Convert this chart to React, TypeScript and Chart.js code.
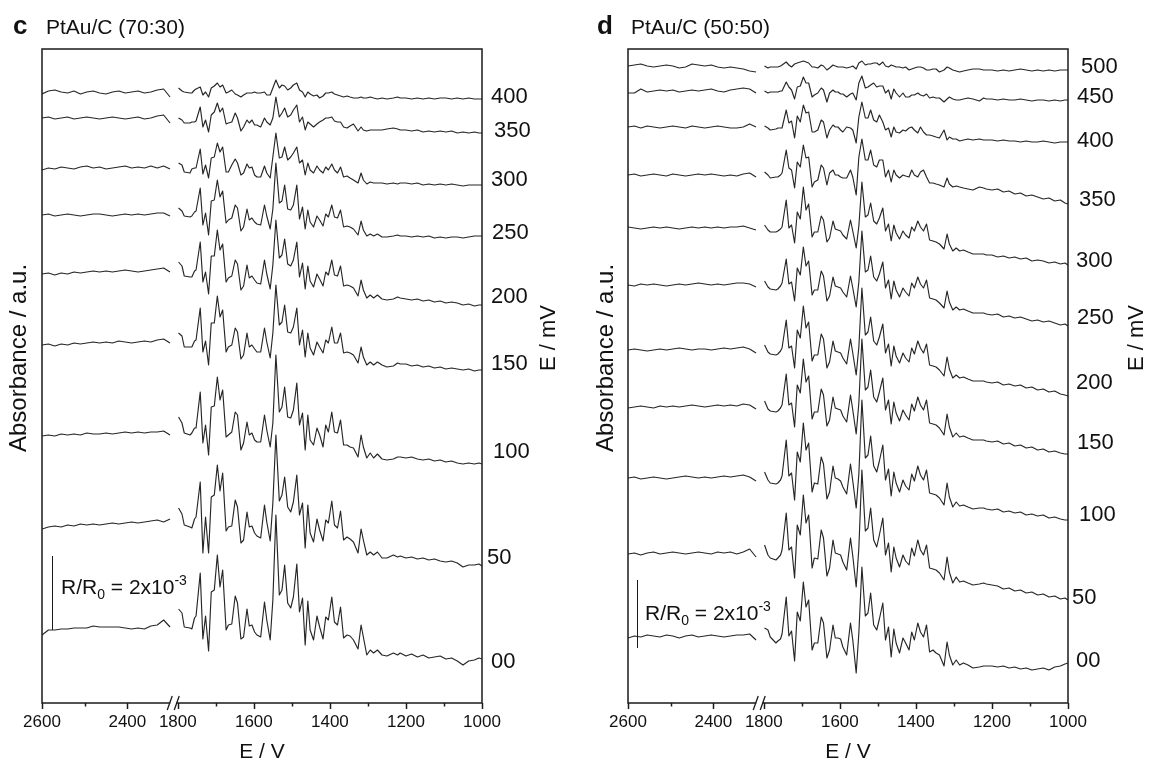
import React, { useEffect, useRef } from "react";
import { Chart, registerables } from "chart.js";

Chart.register(...registerables);

const FONT = '"Liberation Sans", Arial, Helvetica, sans-serif';
const LINE = "#262626";

// ---- x grid (wavenumber) ----
const X_LEFT = [2600, 2585, 2570, 2555, 2540, 2525, 2510, 2495, 2480, 2465, 2450, 2435, 2420, 2405, 2390, 2375, 2360, 2345, 2330, 2315, 2300];
const X_RIGHT = [
  1798, 1789, 1783, 1768, 1763, 1756, 1752,
  1741, 1734, 1727, 1719, 1712, 1704, 1696,
  1689, 1682, 1673, 1667, 1658, 1649, 1643,
  1634, 1627, 1618, 1612, 1605, 1598, 1592,
  1582, 1572, 1566, 1557, 1550, 1542, 1533,
  1526, 1519, 1511, 1503, 1496, 1487, 1480,
  1472, 1465, 1458, 1452, 1443, 1434, 1427,
  1418, 1411, 1404, 1395, 1388, 1380, 1372,
  1364, 1355, 1347, 1338, 1326, 1318, 1312,
  1303, 1294, 1285, 1275, 1263, 1250, 1233, 1222, 1215,
  1200, 1185, 1170, 1155, 1140, 1125, 1110, 1095, 1080, 1065, 1050, 1035, 1020, 1008, 1000,
];
const X_TICKS = [2600, 2500, 2400, 1800, 1700, 1600, 1500, 1400, 1300, 1200, 1100, 1000];
const X_TICK_LABELS = ["2600", "", "2400", "1800", "", "1600", "", "1400", "", "1200", "", "1000"];

// ---- panel c : PtAu/C (70:30) ----
const C_LABELS = ["400", "350", "300", "250", "200", "150", "100", "50", "00"];
const C_OFFSETS = [610, 585, 536, 488, 431, 361, 270, 176, 75];

const C_400_L = [-1, 2, 3, 1, 0, 2, -1, 1, 2, 0, -1, 1, 2, 0, 1, 2, 0, 1, 3, 4, -4];
const C_400_R = [
  5, 2, 1, 0, 0, 3, 4,
  6, -2, 1, -4, 5, 7, 10,
  6, 8, 0, 1, 3, -1, -2,
  -4, -2, 0, 0, 0, 1, 0,
  0, 1, -2, -2, 5, 13, 5,
  8, 7, 3, 5, 8, 10, 3,
  1, -4, 1, -1, -3, -2, -5,
  -3, 0, 0, 1, -1, -2, -3,
  -4, -3, -4, -5, -5, -4, -5,
  -5, -4, -5, -6, -5, -6, -5, -4, -5,
  -5, -6, -5, -6, -5, -6, -5, -5, -6, -5, -6, -5, -6, -6, -6,
];
const C_350_L = [0, 1, -1, 0, 1, -1, 0, 1, 0, -1, 0, 1, 0, -1, 0, 1, -1, 0, 2, 3, -5];
const C_350_R = [
  0, -2, -5, -5, -4, -4, -3,
  11, -9, -2, -14, 3, 6, 15,
  6, 10, -6, -5, -4, 5, 0,
  -13, -9, -2, -5, -2, -7, -7,
  -9, 0, -4, -7, 0, 21, 1,
  5, 10, 1, 3, 8, 13, -4,
  1, -12, -4, -6, -9, -6, -4,
  -2, 0, 0, 1, -3, -4, -4,
  -9, -10, -8, -6, -13, -9, -12,
  -13, -12, -12, -12, -12, -11, -10, -11, -12,
  -12, -13, -12, -14, -13, -14, -13, -14, -13, -15, -14, -15, -14, -15, -15,
];
const C_300_L = [-3, -1, -2, 0, -1, -2, 0, 1, -1, 0, -2, -1, 0, 1, -1, 0, -1, 1, -1, 1, -2];
const C_300_R = [
  4, 2, -5, -6, -2, -1, -1,
  18, -7, 2, -11, 9, 10, 24,
  15, 20, -5, -5, 2, 8, 4,
  -8, -6, 3, -1, 0, -8, -10,
  -10, 1, -6, -11, 10, 34, 9,
  10, 20, 7, 10, 14, 20, 4,
  7, -8, 4, -3, -6, 1, -3,
  -6, 0, -3, 3, -3, -6, 0,
  -10, -9, -11, -13, -16, -6, -13,
  -17, -15, -16, -16, -16, -17, -16, -17, -16,
  -16, -17, -16, -18, -17, -18, -17, -18, -17, -18, -19, -18, -18, -18, -18,
];
const C_250_L = [0, 1, -1, 0, 1, 0, -1, 0, 1, 1, 0, -1, 0, 1, 0, 1, 0, 1, 2, 2, -1];
const C_250_R = [
  7, 4, -1, -2, -1, 3, 4,
  27, -10, 2, -20, 14, 15, 35,
  18, 24, -8, -5, -3, 10, 7,
  -16, -12, 6, -5, -3, -7, -9,
  -10, 10, -1, -14, 6, 52, 12,
  14, 30, 6, 5, 10, 30, -4,
  8, -14, 5, -7, -12, -1, -5,
  -11, 1, -2, 10, -2, -3, 5,
  -12, -11, -12, -14, -20, -6, -15,
  -21, -19, -21, -19, -22, -22, -21, -20, -21,
  -21, -22, -21, -22, -21, -23, -22, -23, -22, -22, -23, -22, -21, -21, -21,
];
const C_200_L = [-2, -1, -3, -1, -2, 0, -1, 0, 1, 0, 1, 0, 1, 2, 1, 0, 1, 2, 3, 4, 0];
const C_200_R = [
  10, 6, -4, -5, -5, 1, 2,
  30, -10, 0, -22, 16, 16, 42,
  22, 28, -10, -6, -4, 12, 8,
  -18, -14, 7, -6, -4, -8, -11,
  -12, 12, -2, -17, 7, 52, 14,
  17, 33, 8, 6, 12, 30, -5,
  9, -17, 6, -9, -15, -2, -7,
  -14, 0, -3, 12, -3, -4, 6,
  -14, -13, -14, -16, -24, -8, -18,
  -26, -23, -26, -23, -27, -28, -27, -25, -26,
  -27, -28, -27, -29, -28, -30, -29, -31, -30, -31, -33, -32, -34, -33, -33,
];
const C_150_L = [-3, -2, -4, -2, -3, -1, -2, -1, 0, -1, 0, -1, 1, 0, -1, 0, 1, 0, 2, 3, -1];
const C_150_R = [
  9, 6, -5, -5, -5, 1, 2,
  34, -10, 1, -23, 19, 19, 46,
  25, 32, -10, -5, -3, 14, 10,
  -17, -13, 9, -5, -3, -7, -10,
  -10, 14, 0, -16, 9, 57, 17,
  20, 37, 10, 9, 15, 34, -3,
  12, -15, 9, -6, -13, 0, -5,
  -11, 2, -1, 15, -1, -1, 9,
  -11, -10, -11, -13, -21, -5, -15,
  -23, -20, -23, -20, -23, -25, -24, -21, -22,
  -22, -24, -23, -25, -24, -26, -25, -27, -26, -27, -28, -27, -29, -28, -28,
];
const C_100_L = [-3, -2, -3, -1, -2, -1, -2, 0, -1, -1, 0, -1, 0, 1, 0, 1, 0, 1, 1, 2, -2];
const C_100_R = [
  16, 10, 0, -2, 0, 5, 5,
  41, -10, 8, -22, 26, 27, 56,
  33, 43, -4, -2, 1, 21, 18,
  -17, -10, 11, -2, 0, -7, -9,
  -9, 18, 3, -14, 10, 78, 21,
  26, 46, 16, 15, 23, 50, 8,
  20, -17, 18, -7, -12, 5, -2,
  -14, 8, 1, 21, 1, 0, 13,
  -12, -12, -14, -15, -24, -2, -14,
  -25, -20, -25, -21, -26, -27, -26, -24, -24,
  -25, -24, -26, -27, -26, -28, -27, -29, -28, -30, -31, -30, -31, -30, -31,
];
const C_50_L = [-2, 0, 1, 0, 2, 1, 3, 2, 3, 2, 3, 4, 3, 4, 5, 4, 5, 6, 7, 5, 8];
const C_50_R = [
  19, 13, 2, 0, -1, 8, 10,
  45, -26, 10, -26, 30, 32, 62,
  36, 54, -4, 0, 1, 27, 20,
  -16, -13, 15, 0, 1, -6, -9,
  -11, 22, 5, -14, 24, 92, 26,
  32, 50, 20, 15, 25, 52, 12,
  24, -21, 22, -6, -15, 8, -3,
  -14, 7, 4, 26, 2, -1, 16,
  -13, -10, -12, -15, -26, -2, -13,
  -28, -25, -28, -25, -31, -31, -28, -30, -29,
  -31, -30, -32, -31, -33, -32, -34, -35, -34, -36, -40, -38, -38, -37, -39,
];
const C_00_L = [-7, -2, -2, -1, -1, 0, 0, 0, 2, 1, 1, 1, 1, 0, -1, 0, -1, 2, 3, 8, 1];
const C_00_R = [
  19, 15, 1, 0, -1, 10, 12,
  55, -11, 12, -23, 36, 38, 73,
  41, 58, -2, 3, 4, 32, 25,
  -11, -9, 19, 2, 3, -4, -7,
  -9, 26, 8, -12, 28, 113, 33,
  38, 63, 25, 20, 31, 64, 16,
  30, -17, 27, -2, -12, 12, 1,
  -11, 11, 8, 31, 6, 3, 21,
  -10, -7, -8, -12, -21, 3, -9,
  -27, -22, -25, -22, -27, -28, -25, -27, -25,
  -28, -26, -29, -27, -30, -29, -28, -31, -30, -33, -37, -33, -32, -30, -31,
];

// ---- panel d : PtAu/C (50:50) ----
const D_LABELS = ["500", "450", "400", "350", "300", "250", "200", "150", "100", "50", "00"];
const D_OFFSETS = [637, 611, 576, 528, 475, 418, 353, 296, 225, 150, 67];

const D_500_L = [0, 1, 2, 0, -1, 0, 1, 0, -2, -1, 2, 1, 0, 1, -1, -2, -1, -2, -3, -5, -6];
const D_500_R = [
  0, -2, -1, -1, -1, 0, 1,
  4, 1, -1, 2, 3, 4, 5,
  4, 3, -1, -1, -2, 1, 0,
  -4, -2, 1, 0, -1, -1, -1,
  -2, -1, 0, -3, 3, 5, 1,
  2, 2, 3, 3, 1, 4, 0,
  -1, 1, 0, -1, -1, -2, -1,
  -4, -3, -2, -1, -1, -2, -4,
  -4, -3, -3, -6, -4, -1, -2,
  -4, -5, -6, -5, -4, -3, -3, -4, -4,
  -4, -5, -4, -5, -4, -3, -4, -5, -4, -5, -4, -5, -4, -4, -4,
];
const D_450_L = [-1, -1, 3, 0, 1, 2, 1, 2, 0, 1, 2, 1, 2, 3, 1, 0, 2, 3, 4, 3, -1];
const D_450_R = [
  1, -1, 0, 0, 0, 1, 1,
  10, 5, 2, -7, 5, 6, 15,
  9, 9, -5, -3, -1, 4, 2,
  -10, -1, 2, 0, 0, -2, -2,
  -5, -2, -1, -8, 9, 16, 4,
  5, 7, 9, 5, 6, 6, -1,
  2, -7, 3, -1, -5, -1, -5,
  -5, -3, -3, -1, -3, -4, -2,
  -6, -5, -6, -6, -10, -7, -5,
  -7, -8, -8, -7, -6, -7, -9, -6, -7,
  -7, -8, -7, -8, -8, -7, -8, -9, -8, -8, -9, -8, -9, -8, -8,
];
const D_400_L = [0, 1, -1, 1, 0, -1, 0, 1, 0, -1, 1, 0, -1, 0, 1, 0, -1, -1, 0, 3, 0];
const D_400_R = [
  1, -1, -3, -2, -1, -1, -1,
  17, 4, 6, -11, 11, 5, 22,
  14, 15, -5, -5, -3, 7, 5,
  -11, -3, 2, 0, 0, -3, -5,
  0, -1, -3, -16, 10, 25, 9,
  9, 17, 7, 5, 12, 5, -3,
  -1, -10, 0, -5, -6, -3, -4,
  -1, 0, -3, -6, 0, -5, -8,
  -8, -9, -10, -11, -3, -13, -10,
  -12, -12, -14, -13, -12, -13, -12, -13, -13,
  -13, -14, -13, -14, -14, -15, -14, -15, -15, -14, -15, -16, -15, -15, -15,
];
const D_350_L = [0, 1, -1, 0, 1, 0, -1, 1, 0, -1, 0, 1, 0, 1, 0, -1, 0, -1, 1, 2, -2];
const D_350_R = [
  3, 0, -3, -2, -2, 0, 2,
  25, 7, 5, -13, 13, 8, 30,
  17, 18, -12, -7, -5, 10, 7,
  -10, 2, 5, 0, 0, -2, -3,
  -3, 5, -2, -20, 18, 36, 15,
  15, 25, 10, 8, 15, 15, -2,
  5, -7, 5, 0, -3, 0, -1,
  -2, 5, 0, -2, 3, 5, -2,
  -8, -8, -9, -10, -12, -3, -9,
  -12, -11, -12, -13, -14, -15, -12, -13, -14,
  -15, -14, -17, -16, -19, -18, -21, -20, -22, -24, -23, -26, -25, -28, -29,
];
const D_300_L = [1, 0, -1, 0, 1, 0, 1, 0, -1, 0, 1, 0, 1, 0, 1, 0, 1, 1, 2, 0, -2];
const D_300_R = [
  3, -2, -4, -4, -3, -1, 1,
  28, 0, 3, -15, 16, 9, 41,
  18, 24, -9, -4, -4, 12, 8,
  -14, -10, 7, -1, -2, -3, -7,
  -11, 8, -3, -20, 2, 46, 11,
  13, 25, 7, 4, 10, 20, -3,
  4, -13, 3, -5, -11, -3, -7,
  -10, 1, -3, 7, 1, -3, 4,
  -12, -13, -14, -16, -21, -6, -16,
  -23, -20, -23, -22, -24, -26, -26, -26, -27,
  -27, -29, -28, -30, -29, -31, -30, -33, -32, -33, -35, -34, -36, -35, -37,
];
const D_250_L = [0, -1, 1, 0, 1, 0, -1, 0, 1, 0, 1, 2, 1, 0, 1, 0, 1, 2, 2, 1, -2];
const D_250_R = [
  4, -2, -4, -5, -4, -1, 2,
  26, 1, 3, -16, 17, 10, 38,
  19, 24, -10, -5, -5, 14, 9,
  -16, -11, 8, -1, -2, -3, -7,
  -12, 9, -3, -22, 3, 54, 13,
  15, 29, 8, 4, 11, 23, -3,
  5, -14, 4, -5, -12, -3, -7,
  -11, 2, -3, 8, 1, -3, 5,
  -13, -14, -15, -18, -23, -6, -17,
  -25, -22, -25, -24, -26, -28, -28, -28, -29,
  -30, -29, -32, -31, -33, -32, -34, -36, -35, -37, -36, -38, -40, -39, -41,
];
const D_200_L = [0, 1, 0, -1, 0, 1, 0, 1, 2, 1, 0, 1, 1, 0, 1, 2, 1, 2, 3, 1, -3];
const D_200_R = [
  5, -2, -4, -5, -4, -1, 2,
  30, 2, 4, -18, 20, 12, 44,
  22, 28, -11, -5, -5, 16, 11,
  -18, -12, 9, -1, -2, -3, -8,
  -14, 11, -3, -25, 3, 62, 15,
  18, 33, 9, 5, 13, 26, -3,
  6, -16, 4, -6, -13, -3, -8,
  -12, 2, -4, 9, 2, -3, 6,
  -15, -16, -17, -20, -26, -7, -19,
  -28, -25, -28, -27, -29, -31, -31, -31, -32,
  -33, -32, -35, -34, -36, -35, -38, -37, -40, -39, -42, -41, -44, -45, -46,
];
const D_150_L = [-1, 0, 1, 0, -1, 1, 0, 1, 0, 1, 2, 1, 0, 1, 2, 1, 2, 1, 3, 2, -2];
const D_150_R = [
  6, -2, -4, -5, -4, -1, 2,
  33, 2, 4, -20, 22, 14, 48,
  25, 31, -12, -5, -5, 18, 12,
  -19, -13, 10, -1, -2, -3, -9,
  -15, 12, -3, -27, 4, 68, 17,
  20, 37, 10, 5, 15, 29, -3,
  7, -17, 5, -6, -14, -3, -8,
  -13, 3, -4, 10, 2, -3, 7,
  -16, -17, -18, -21, -28, -7, -20,
  -30, -26, -30, -29, -31, -33, -33, -33, -34,
  -35, -34, -37, -36, -39, -38, -41, -40, -43, -42, -45, -44, -46, -47, -47,
];
const D_100_L = [0, 1, -1, 0, 1, 0, -1, 0, 1, 2, 1, 0, 1, 0, 1, 2, 1, 2, 3, 1, -3];
const D_100_R = [
  6, -2, -5, -6, -5, -2, 2,
  38, 2, 5, -22, 26, 16, 55,
  28, 35, -14, -5, -6, 21, 14,
  -21, -14, 12, 0, -1, -3, -9,
  -16, 14, -3, -30, 4, 78, 20,
  23, 42, 12, 6, 17, 33, -2,
  9, -18, 6, -5, -14, -2, -8,
  -12, 4, -3, 12, 3, -2, 8,
  -15, -16, -17, -20, -27, -5, -19,
  -29, -24, -28, -27, -29, -31, -30, -30, -31,
  -32, -31, -34, -33, -35, -34, -37, -36, -38, -37, -40, -39, -41, -42, -42,
];
const D_50_L = [-1, 0, -2, 0, 1, -1, 0, 1, 0, -1, 0, 1, 0, -1, 1, 0, 1, -1, 1, 4, -4];
const D_50_R = [
  8, -2, -5, -7, -5, -2, 3,
  40, 3, 6, -25, 28, 18, 58,
  30, 38, -15, -5, -6, 23, 15,
  -23, -15, 13, 0, -1, -2, -9,
  -17, 15, -3, -34, 5, 83, 22,
  25, 45, 13, 6, 18, 35, -2,
  10, -19, 6, -5, -14, -2, -8,
  -12, 5, -3, 13, 3, -2, 8,
  -15, -16, -17, -20, -27, -4, -19,
  -30, -24, -29, -28, -30, -32, -31, -30, -31,
  -32, -33, -36, -35, -38, -37, -40, -39, -42, -41, -44, -43, -46, -45, -47,
];
const D_00_L = [-2, 0, -1, 1, 0, -1, 1, 0, -2, 0, 1, -1, 0, 1, 0, -1, 0, 1, 1, 2, -4];
const D_00_R = [
  8, 6, -1, -7, -5, -3, 2,
  39, 0, 5, -25, 24, 15, 54,
  29, 36, -14, -7, -7, 19, 13,
  -22, -14, 11, -2, -2, -3, -11,
  -19, 13, -4, -37, 3, 69, 20,
  23, 43, 11, 6, 17, 33, -4,
  9, -21, 7, -7, -17, -2, -7,
  -14, 4, -4, 13, 4, -1, 11,
  -16, -14, -17, -19, -30, -6, -19,
  -29, -24, -29, -27, -29, -32, -31, -30, -30,
  -30, -31, -30, -32, -31, -33, -32, -34, -33, -32, -34, -31, -30, -28, -27,
];

const C_LEFT = [C_400_L, C_350_L, C_300_L, C_250_L, C_200_L, C_150_L, C_100_L, C_50_L, C_00_L];
const C_RIGHT = [C_400_R, C_350_R, C_300_R, C_250_R, C_200_R, C_150_R, C_100_R, C_50_R, C_00_R];
const D_LEFT = [D_500_L, D_450_L, D_400_L, D_350_L, D_300_L, D_250_L, D_200_L, D_150_L, D_100_L, D_50_L, D_00_L];
const D_RIGHT = [D_500_R, D_450_R, D_400_R, D_350_R, D_300_R, D_250_R, D_200_R, D_150_R, D_100_R, D_50_R, D_00_R];

// ---- broken axis mapping (2600-2300 | 1800-1000) ----
const U_MAX = 2157.1;
const BREAK_U = 1812;
function toAxis(e: number): number {
  return e <= 1800 ? e : U_MAX - (2600 - e) * 1.1224;
}

type Layout = {
  left: number;
  width: number;
  padLeft: number;
  padRight: number;
  letter: string;
  letterX: number;
  title: string;
  titleX: number;
  yTitleX: number;
  rightTitleX: number;
  labelX: number[];
  labelY: number[];
  barX: number;
  barY1: number;
  barY2: number;
  rrX: number;
  rrY: number;
};

const LAYOUT_C: Layout = {
  left: 0, width: 574, padLeft: 42, padRight: 92,
  letter: "c", letterX: 13, title: "PtAu/C (70:30)", titleX: 46,
  yTitleX: 19, rightTitleX: 549,
  labelX: [491, 494, 491, 492, 491, 491, 493, 487, 491],
  labelY: [97, 131, 180, 233, 297, 364, 452, 558, 662],
  barX: 52.5, barY1: 556, barY2: 630, rrX: 61, rrY: 594,
};
const LAYOUT_D: Layout = {
  left: 574, width: 575, padLeft: 54, padRight: 81,
  letter: "d", letterX: 23, title: "PtAu/C (50:50)", titleX: 57,
  yTitleX: 32, rightTitleX: 563,
  labelX: [507, 503, 503, 505, 502, 503, 502, 503, 505, 498, 502],
  labelY: [67, 97, 141, 200, 261, 318, 383, 443, 515, 598, 661],
  barX: 63.5, barY1: 580, barY2: 648, rrX: 71, rrY: 620,
};

function makeOverlay(lay: Layout, labels: string[]) {
  return {
    id: "overlay" + lay.letter,
    afterDraw(chart: any) {
      const ctx: CanvasRenderingContext2D = chart.ctx;
      const a = chart.chartArea;
      const xs = chart.scales.x;
      ctx.save();
      // frame
      ctx.strokeStyle = "#1a1a1a";
      ctx.lineWidth = 1.5;
      ctx.strokeRect(a.left, a.top, a.right - a.left, a.bottom - a.top);
      // ticks
      X_TICKS.forEach((e, i) => {
        const px = Math.round(xs.getPixelForValue(toAxis(e))) + 0.5;
        const len = X_TICK_LABELS[i] ? 6 : 3.5;
        ctx.beginPath();
        ctx.moveTo(px, a.bottom);
        ctx.lineTo(px, a.bottom + len);
        ctx.stroke();
      });
      // axis break
      const bx = xs.getPixelForValue(BREAK_U);
      ctx.fillStyle = "#fff";
      ctx.fillRect(bx - 3, a.bottom - 2, 6, 4);
      ctx.lineWidth = 1.3;
      [-3.5, 3.5].forEach((d) => {
        ctx.beginPath();
        ctx.moveTo(bx + d - 2.5, a.bottom + 7);
        ctx.lineTo(bx + d + 2.5, a.bottom - 7);
        ctx.stroke();
      });
      // texts
      ctx.fillStyle = "#111";
      ctx.textBaseline = "alphabetic";
      ctx.textAlign = "left";
      ctx.font = `bold 26px ${FONT}`;
      ctx.fillText(lay.letter, lay.letterX, 34);
      ctx.font = `21px ${FONT}`;
      ctx.fillText(lay.title, lay.titleX, 34);
      ctx.textAlign = "center";
      ctx.textBaseline = "middle";
      ctx.fillText("E / V", (a.left + a.right) / 2, 752);
      ctx.save();
      ctx.font = `24px ${FONT}`;
      ctx.translate(lay.yTitleX, 358);
      ctx.rotate(-Math.PI / 2);
      ctx.fillText("Absorbance / a.u.", 0, 0);
      ctx.restore();
      ctx.save();
      ctx.font = `22px ${FONT}`;
      ctx.translate(lay.rightTitleX, 338);
      ctx.rotate(-Math.PI / 2);
      ctx.fillText("E / mV", 0, 0);
      ctx.restore();
      // trace labels
      ctx.textAlign = "left";
      ctx.font = `22px ${FONT}`;
      labels.forEach((t, i) => ctx.fillText(t, lay.labelX[i], lay.labelY[i]));
      // scale bar
      ctx.lineWidth = 1;
      ctx.beginPath();
      ctx.moveTo(lay.barX, lay.barY1);
      ctx.lineTo(lay.barX, lay.barY2);
      ctx.stroke();
      ctx.textBaseline = "alphabetic";
      let x = lay.rrX;
      const y = lay.rrY;
      ctx.font = `21px ${FONT}`;
      ctx.fillText("R/R", x, y);
      x += ctx.measureText("R/R").width;
      ctx.font = `14px ${FONT}`;
      ctx.fillText("0", x, y + 5);
      x += ctx.measureText("0").width;
      ctx.font = `21px ${FONT}`;
      ctx.fillText(" = 2x10", x, y);
      x += ctx.measureText(" = 2x10").width;
      ctx.font = `14px ${FONT}`;
      ctx.fillText("-3", x, y - 9);
      ctx.restore();
    },
  };
}

function Panel({ lay, labels, offsets, lefts, rights }: { lay: Layout; labels: string[]; offsets: number[]; lefts: number[][]; rights: number[][] }) {
  const ref = useRef<HTMLCanvasElement>(null);
  useEffect(() => {
    const datasets = labels.map((lab, k) => {
      const pts: { x: number; y: number | null }[] = [];
      X_LEFT.forEach((e, i) => pts.push({ x: toAxis(e), y: offsets[k] + lefts[k][i] }));
      pts.push({ x: BREAK_U, y: null });
      X_RIGHT.forEach((e, i) => pts.push({ x: toAxis(e), y: offsets[k] + rights[k][i] }));
      return {
        label: lab,
        data: pts,
        borderColor: LINE,
        borderWidth: 1.15,
        pointRadius: 0,
        fill: false,
        tension: 0,
        borderJoinStyle: "round" as const,
        spanGaps: false,
      };
    });
    const chart = new Chart(ref.current as HTMLCanvasElement, {
      type: "line",
      data: { datasets },
      options: {
        animation: false,
        responsive: false,
        events: [],
        layout: { padding: { left: lay.padLeft, right: lay.padRight, top: 49, bottom: 0 } },
        plugins: { legend: { display: false }, tooltip: { enabled: false } },
        scales: {
          x: {
            type: "linear",
            reverse: true,
            min: 1000,
            max: U_MAX,
            afterBuildTicks: (s: any) => {
              s.ticks = X_TICKS.map((e) => ({ value: toAxis(e) }));
            },
            afterFit: (s: any) => {
              s.height = 59;
              s.paddingLeft = 0;
              s.paddingRight = 0;
            },
            grid: { display: false, drawTicks: false },
            border: { display: false },
            ticks: {
              autoSkip: false,
              maxRotation: 0,
              padding: 9,
              color: "#111",
              font: { family: FONT, size: 17 },
              callback: (v: any) => {
                let best = 0;
                X_TICKS.forEach((e, i) => {
                  if (Math.abs(toAxis(e) - v) < Math.abs(toAxis(X_TICKS[best]) - v)) best = i;
                });
                return X_TICK_LABELS[best];
              },
            },
          },
          y: { display: false, min: 0, max: 654 },
        },
      } as any,
      plugins: [makeOverlay(lay, labels)],
    });
    return () => chart.destroy();
  }, []);
  return (
    <canvas
      ref={ref}
      width={lay.width}
      height={762}
      style={{ position: "absolute", left: lay.left, top: 0, width: lay.width, height: 762 }}
    />
  );
}

export default function App() {
  return (
    <div style={{ position: "fixed", left: 0, top: 0, width: 1149, height: 762, background: "#fff", overflow: "hidden" }}>
      <Panel lay={LAYOUT_C} labels={C_LABELS} offsets={C_OFFSETS} lefts={C_LEFT} rights={C_RIGHT} />
      <Panel lay={LAYOUT_D} labels={D_LABELS} offsets={D_OFFSETS} lefts={D_LEFT} rights={D_RIGHT} />
    </div>
  );
}
